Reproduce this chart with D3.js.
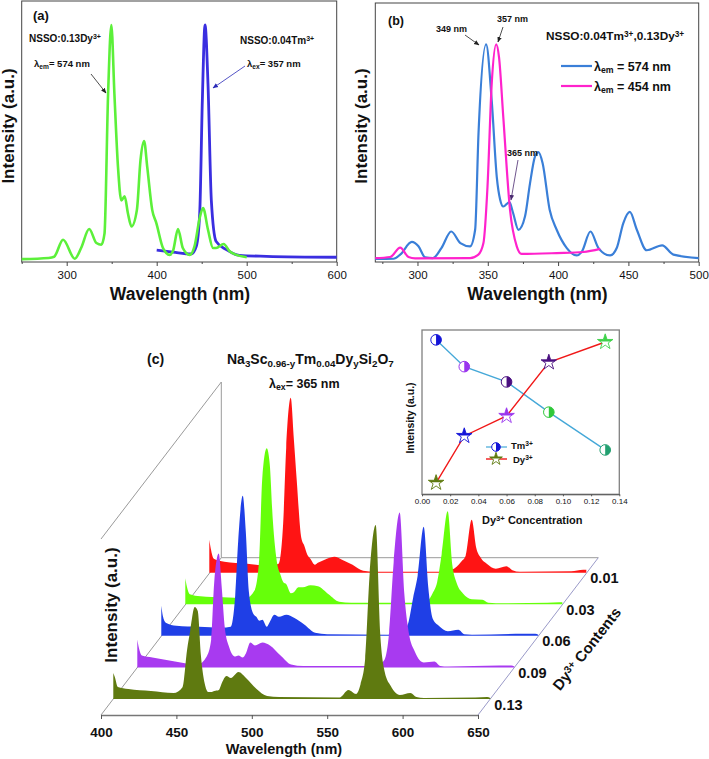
<!DOCTYPE html>
<html>
<head>
<meta charset="utf-8">
<script src="https://cdn.jsdelivr.net/npm/d3@7"></script>
<style>
	html, body { margin: 0; padding: 0; background: #fff; }
	svg { display: block; }
	text { font-family: "Liberation Sans", Arial, sans-serif; fill: #111; }
</style>
</head>
<body>
<div id="mainDiv"></div>
<script>
// Panel (a)
const aGreenX = [250,280,286,296,309,316,325,333,338.5,342,346,349.6,353,357,360.7,364.4,368,372,378,382,386,389.5,395,399.6,407,414.4,418,423.7,429,436.7,442,448,451.5,457,462.6,466,474.4,481,488.5,500];
const aGreenY = [1.2,1.7,2.2,9.4,1.4,5.9,13.9,8,7.3,12,71,100,71,40,26,27.7,20.6,15,22,43,51,40,22,16.4,5.9,3,4.5,13.9,5.9,3,6.6,19,22.8,13.6,5.9,5.9,7.6,4.5,3,2];
const aBlueX = [400,418,438.5,444,447.8,450.7,453.7,457,460.7,466,477.4,492,522,600];
const aBlueY = [5,4.2,3.4,6.6,20.6,68,100,75,26,8.7,5.2,2.8,2.4,2];
const aTicks = [300,400,500,600];

// Panel (b)
const bBlueX = [270,283,287.7,296,300.7,305.5,311,317,324,330.5,337.4,341,343.4,348.8,352.8,356.4,358.8,361,365.4,368,371.8,376.5,380,383.6,386,389,394,399,406.2,413.3,417,423,428.7,437,441.7,446.4,451,456,463,474,482,500];
const bBlueY = [1.4,1.5,3.4,9.2,7.2,2.1,1.8,6.4,14,8.7,7.2,14.8,59,100,74,39,28.6,25.5,27.5,22.5,14.8,21,36,48.5,50.5,45.4,24,14.8,6.4,3,4.9,14,6.4,3,6.4,17.9,23,14.8,5.4,7.6,3.4,1.8];
const bPinkX = [270,280.6,287.7,293.6,298.3,337.4,343.3,346.9,349.8,352.8,356,358,361,365.8,370.6,374,399,418,430];
const bPinkY = [1.8,2.3,6.6,2.3,1.7,1.8,3.4,8.7,34.7,82,100,94,66.8,24,7.2,3.7,4.1,4.6,6];
const bTicks = [300,350,400,450,500];

// Panel (c) stacked spectra, back to front
const contents = ["0.01","0.03","0.06","0.09","0.13"];
const fillColors = ["#ff1414","#66ff0a","#1f3fe6","#a83af0","#5f7a10"];
const cWave = [400,401,403,410,425,440,446,449,451,454,456,458,461,463,465,467,470,472,475,478,483,488,495,502,510,550,556,561,564,567,570,574,577,580,584,590,597,601,606,640,648,650];
const c001 = [33,24,14,11,9,7,9,50,125,175,135,92,35,27,18,14,8,10,12,14,16,13,8,2,1,1,1,3,6,11,17,53,25,15,9,4,6.5,2.5,1,1.5,3,3];
const c003 = [26,18,10,8,7,6,14,45,125,156,140,85,40,30,22,20,11,12,17,17,19,18,10,2.5,1.5,1.5,1.5,4,11,22,50,93,40,21,11,5,4.5,1.5,1,1.5,2,2];
const c006 = [30,20,13,10,9,8,9,40,95,140,105,45,22,19,15,16,9,14,21,19,21,18,11,3,1.5,1,1.5,5,14,38,60,109,49,17,10,4.5,6,1.5,1,2,2,1];
const c009 = [28,20,12,10,6,3,11,28,85,114,80,40,20,13,11,12,10,14,25,22,25,22,12,3,1.5,1.5,2,4,8,35,105,155,75,35,16,5,6,1.5,1,2,2,1];
const c013 = [26,22,12,10,8,6,12,50,68,92,88,45,13,7,7,8,9,16,23,21,27,21,10,3,2,1.5,9,5,15,40,125,174,65,27,13,4,6,2,1,1.5,2,1];
const cSeries = [c001,c003,c006,c009,c013];
const cTicks = [400,450,500,550,600,650];

// Inset
const insetConc = [0.01,0.03,0.06,0.09,0.13];
const insetTm = [0.94,0.777,0.684,0.50,0.27];
const insetDy = [0.07,0.355,0.477,0.803,0.927];
const insetTicks = [0,0.02,0.04,0.06,0.08,0.10,0.12,0.14];
const tmColors = ["#1414d8","#9a35ee","#4a0f80","#2fc83a","#22a070"];
const dyColors = ["#5f7a10","#1414d8","#9a35ee","#4a0f80","#3fd24a"];

let svg = d3.select("#mainDiv").append("svg")
	.attr("width", 709)
	.attr("height", 759);

// Text helper: parts are [string, "sub"|"sup"|undefined]
function label(x, y, size, parts, opts) {
	opts = opts || {};
	let t = svg.append("text")
		.attr("x", x)
		.attr("y", y)
		.attr("font-size", size)
		.attr("font-weight", "bold")
		.attr("text-anchor", opts.anchor || "start");
	if (opts.rotate !== undefined) t.attr("transform", "rotate(" + opts.rotate + "," + x + "," + y + ")");
	if (typeof parts === "string") parts = [[parts]];
	parts.forEach(function(p) {
		let s = t.append("tspan").text(p[0]);
		if (p[1] === "sub") s.attr("baseline-shift", "-25%").attr("font-size", size * 0.7);
		if (p[1] === "sup") s.attr("baseline-shift", "38%").attr("font-size", size * 0.7);
	});
	return t;
}

// Arrow heads
let defs = svg.append("defs");
[["arrowDark", "#222"], ["arrowBlue", "#2a2ab8"], ["arrowPurple", "#4a2a70"]].forEach(function(a) {
	defs.append("marker")
		.attr("id", a[0])
		.attr("viewBox", "0 0 10 10")
		.attr("refX", 9)
		.attr("refY", 5)
		.attr("markerWidth", 7)
		.attr("markerHeight", 7)
		.attr("orient", "auto")
		.append("path")
		.attr("d", "M0,1L10,5L0,9Z")
		.attr("fill", a[1]);
});
function arrow(x1, y1, x2, y2, color, id) {
	svg.append("line")
		.attr("x1", x1).attr("y1", y1).attr("x2", x2).attr("y2", y2)
		.attr("stroke", color)
		.attr("stroke-width", 0.8)
		.attr("marker-end", "url(#" + id + ")");
}

let lineGen = function(xs, ys, sx, sy) {
	return d3.line()
		.x(function(d) { return sx(d[0]); })
		.y(function(d) { return sy(d[1]); })
		.curve(d3.curveMonotoneX)(d3.zip(xs, ys));
};

// Plot frame for panels a and b
function frame(sx, sy, major, minor) {
	let y0 = sy.range()[0];
	svg.append("rect")
		.attr("x", sx.range()[0])
		.attr("y", sy.range()[1])
		.attr("width", sx.range()[1] - sx.range()[0])
		.attr("height", y0 - sy.range()[1])
		.attr("fill", "none")
		.attr("stroke", "#444")
		.attr("stroke-width", 1);
	let ax = svg.append("g")
		.attr("transform", "translate(0," + y0 + ")")
		.call(d3.axisBottom(sx).tickValues(major).tickSize(4).tickPadding(5).tickFormat(d3.format("d")));
	ax.select(".domain").remove();
	ax.selectAll("text").attr("font-size", 11.5).style("font-family", '"Liberation Sans", Arial, sans-serif').attr("fill", "#222");
	ax.selectAll("line").attr("stroke", "#444");
	let mx = svg.append("g")
		.attr("transform", "translate(0," + y0 + ")")
		.call(d3.axisBottom(sx).tickValues(minor).tickSize(2).tickFormat(""));
	mx.select(".domain").remove();
	mx.selectAll("line").attr("stroke", "#444");
}

// ---- Panel (a)
let ax = d3.scaleLinear().domain([250, 600]).range([21.7, 336.7]);
let ay = d3.scaleLinear().domain([0, 100]).range([262, 25]);
let ayFrame = d3.scaleLinear().domain([0, 100]).range([262, 1]);
frame(ax, ayFrame, aTicks, [250,350,450,550]);

svg.append("path")
	.attr("d", lineGen(aBlueX, aBlueY, ax, ay))
	.attr("fill", "none").attr("stroke", "#3a2ee0").attr("stroke-width", 2.8);
svg.append("path")
	.attr("d", lineGen(aGreenX, aGreenY, ax, ay))
	.attr("fill", "none").attr("stroke", "#5cf03a").attr("stroke-width", 2.6);

label(33, 20, 13, "(a)");
label(29, 42, 10, [["NSSO:0.13Dy"], ["3+", "sup"]]);
label(34, 67, 9.5, [["λ"], ["em", "sub"], ["= 574 nm"]]);
label(240, 44, 10, [["NSSO:0.04Tm"], ["3+", "sup"]]);
label(247, 67, 9.5, [["λ"], ["ex", "sub"], ["= 357 nm"]]);
arrow(91, 74, 106, 93, "#222", "arrowDark");
arrow(245, 66, 213, 88, "#2a2ab8", "arrowBlue");
label(180, 300, 17.5, "Wavelength (nm)", {anchor: "middle"});
label(14, 126, 17, "Intensity (a.u.)", {anchor: "middle", rotate: -90});

// ---- Panel (b)
let bx = d3.scaleLinear().domain([270, 500]).range([375.3, 698.7]);
let by = d3.scaleLinear().domain([0, 100]).range([262, 44.3]);
let byFrame = d3.scaleLinear().domain([0, 100]).range([262, 3]);
frame(bx, byFrame, bTicks, [275,325,375,425,475]);

svg.append("path")
	.attr("d", lineGen(bBlueX, bBlueY, bx, by))
	.attr("fill", "none").attr("stroke", "#3a7fd8").attr("stroke-width", 2.2);
svg.append("path")
	.attr("d", lineGen(bPinkX, bPinkY, bx, by))
	.attr("fill", "none").attr("stroke", "#ff22cc").attr("stroke-width", 2.2);

label(388, 25, 12.5, "(b)");
label(436, 32, 9, "349 nm");
label(497, 22, 9, "357 nm");
label(507, 156, 9, "365 nm");
arrow(465, 35, 479, 45, "#222", "arrowDark");
arrow(503, 27, 498, 42, "#222", "arrowDark");
arrow(518, 160, 511, 200, "#4a2a70", "arrowPurple");
label(546, 40, 11.8, [["NSSO:0.04Tm"], ["3+", "sup"], [",0.13Dy"], ["3+", "sup"]]);
[["574 nm", "#3a7fd8", 66], ["454 nm", "#ff22cc", 86]].forEach(function(l) {
	svg.append("line")
		.attr("x1", 561).attr("x2", 592).attr("y1", l[2]).attr("y2", l[2])
		.attr("stroke", l[1]).attr("stroke-width", 2.2);
	label(594, l[2] + 5, 12.5, [["λ"], ["em", "sub"], [" = " + l[0]]]);
});
label(537.5, 300, 17.5, "Wavelength (nm)", {anchor: "middle"});
label(367, 126, 17, "Intensity (a.u.)", {anchor: "middle", rotate: -90});

// ---- Panel (c)
let cx = d3.scaleLinear().domain([400, 650]).range([101, 478]);
let cz = d3.scaleLinear().domain([0, 200]).range([0, 200]);
let depthX = d3.scalePoint().domain(contents).range([108.3, 12.3]);
let depthY = d3.scalePoint().domain(contents).range([572.7, 699]);

// back wall and floor
let wall = svg.append("g").attr("fill", "none").attr("stroke", "#9a9a9a").attr("stroke-width", 1);
wall.append("path").attr("d", "M101,539L221.3,382V557.7H598.3");
wall.append("path").attr("d", "M101,715L221.3,557.7");
wall.append("path").attr("d", "M478,715L598.3,557.7").attr("stroke", "#9a9ac8");

cSeries.forEach(function(vals, i) {
	let c = contents[i];
	let area = d3.area()
		.x(function(d) { return cx(d[0]) + depthX(c); })
		.y0(depthY(c))
		.y1(function(d) { return depthY(c) - cz(d[1]); })
		.curve(d3.curveMonotoneX);
	svg.append("path")
		.attr("d", area(d3.zip(cWave, vals)))
		.attr("fill", fillColors[i]);
	label(478 + depthX(c) + 4, depthY(c) + 10.5, 14.5, c);
});

let cAxis = svg.append("g")
	.attr("transform", "translate(0,715)")
	.call(d3.axisBottom(cx).tickValues(cTicks).tickSize(4).tickSizeOuter(0).tickPadding(8).tickFormat(d3.format("d")));
cAxis.select(".domain").attr("stroke", "#777").attr("stroke-width", 1.5);
cAxis.selectAll("line").attr("stroke", "#555");
cAxis.selectAll("text").attr("font-size", 13.5).attr("font-weight", "bold").style("font-family", '"Liberation Sans", Arial, sans-serif').attr("fill", "#111");

label(147, 364, 14, "(c)");
label(227, 364, 14, [["Na"], ["3", "sub"], ["Sc"], ["0.96-y", "sub"], ["Tm"], ["0.04", "sub"], ["Dy"], ["y", "sub"], ["Si"], ["2", "sub"], ["O"], ["7", "sub"]]);
label(269, 388, 12.5, [["λ"], ["ex", "sub"], ["= 365 nm"]]);
label(284, 754, 14.5, "Wavelength (nm)", {anchor: "middle"});
label(117, 605, 17, "Intensity (a.u.)", {anchor: "middle", rotate: -90});
label(591, 652, 15, [["Dy"], ["3+", "sup"], [" Contents"]], {anchor: "middle", rotate: -52});

// ---- Inset
let ix = d3.scaleLinear().domain([0, 0.14]).range([422, 619.3]);
let iy = d3.scaleLinear().domain([0, 1]).range([494.3, 330]);

svg.append("rect")
	.attr("x", 422).attr("y", 330)
	.attr("width", 197.3).attr("height", 164.3)
	.attr("fill", "#fff").attr("stroke", "#808080").attr("stroke-width", 1.3);
let iAxis = svg.append("g")
	.attr("transform", "translate(0,494.3)")
	.call(d3.axisBottom(ix).tickValues(insetTicks).tickSize(2).tickSizeOuter(0).tickPadding(2).tickFormat(d3.format(".2f")));
iAxis.select(".domain").attr("stroke", "#555");
iAxis.selectAll("line").attr("stroke", "#555");
iAxis.selectAll("text").attr("font-size", 8).style("font-family", '"Liberation Sans", Arial, sans-serif').attr("fill", "#333");

let insetLine = d3.line().x(function(d) { return ix(d[0]); }).y(function(d) { return iy(d[1]); });
svg.append("path").attr("d", insetLine(d3.zip(insetConc, insetTm)))
	.attr("fill", "none").attr("stroke", "#45a8d8").attr("stroke-width", 1.4);
svg.append("path").attr("d", insetLine(d3.zip(insetConc, insetDy)))
	.attr("fill", "none").attr("stroke", "#f01818").attr("stroke-width", 1.4);

defs.append("clipPath").attr("id", "topHalf")
	.append("rect").attr("x", -10).attr("y", -10).attr("width", 20).attr("height", 9.5);

function halfCircle(x, y, color, r) {
	let g = svg.append("g").attr("transform", "translate(" + x + "," + y + ")");
	g.append("circle").attr("r", r).attr("fill", "#fff").attr("stroke", color).attr("stroke-width", 1);
	g.append("path")
		.attr("d", d3.arc()({innerRadius: 0, outerRadius: r, startAngle: 0, endAngle: Math.PI}))
		.attr("fill", color);
}
function halfStar(x, y, color, size) {
	let g = svg.append("g").attr("transform", "translate(" + x + "," + y + ")");
	let star = d3.symbol().type(d3.symbolStar).size(size)();
	g.append("path").attr("d", star).attr("fill", "#fff").attr("stroke", color).attr("stroke-width", 0.9);
	g.append("path").attr("d", star).attr("fill", color).attr("clip-path", "url(#topHalf)");
}

insetConc.forEach(function(c, i) {
	halfCircle(ix(c), iy(insetTm[i]), tmColors[i], 5.3);
	halfStar(ix(c), iy(insetDy[i]), dyColors[i], 75);
});

// inset legend
svg.append("line").attr("x1", 486).attr("x2", 507).attr("y1", 447).attr("y2", 447)
	.attr("stroke", "#45a8d8").attr("stroke-width", 1.2);
svg.append("line").attr("x1", 486).attr("x2", 507).attr("y1", 459).attr("y2", 459)
	.attr("stroke", "#f01818").attr("stroke-width", 1.4);
halfCircle(496, 447, "#1414d8", 4.3);
halfStar(496, 459, "#5f7a10", 50);
label(511, 449, 9.5, [["Tm"], ["3+", "sup"]]);
label(513, 463, 9.5, [["Dy"], ["3+", "sup"]]);

label(482, 524, 11, [["Dy"], ["3+", "sup"], [" Concentration"]]);
label(414, 418, 10.5, "Intensity (a.u.)", {anchor: "middle", rotate: -90});
</script>
</body>
</html>
